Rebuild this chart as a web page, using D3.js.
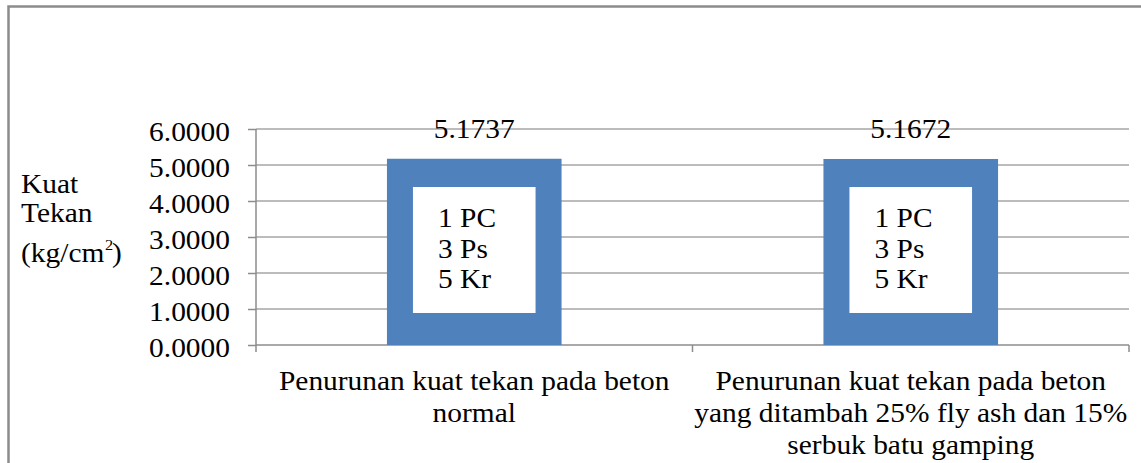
<!DOCTYPE html>
<html>
<head>
<meta charset="utf-8">
<script src="https://cdn.jsdelivr.net/npm/d3@7"></script>
<style>
  body { margin: 0; background: #fff; }
  text { font-family: "Liberation Serif", "Times New Roman", serif; fill: #000; }
</style>
</head>
<body>
<div id="container"></div>
<script>
(function () {
  var categories = ["normal", "flyash"];
  var categoryLines = [
    ["Penurunan kuat tekan pada beton", "normal"],
    ["Penurunan kuat tekan pada beton", "yang ditambah 25% fly ash dan 15%", "serbuk batu gamping"]
  ];
  var values = [5.1737, 5.1672];
  var mixLines = ["1 PC", "3 Ps", "5 Kr"];
  var yTicks = [0, 1, 2, 3, 4, 5, 6];

  var width = 1141,
      height = 463;
  var left = 256, right = 1129, top = 129, bottom = 345;
  var fs = 27, sx = 1.09; // text looks horizontally stretched in the source

  var svg = d3.select("#container").append("svg")
    .attr("width", width).attr("height", height);

  // outer frame (only the top and left edges are visible)
  svg.append("rect")
    .attr("x", 8.5).attr("y", 6.5)
    .attr("width", 1200).attr("height", 600)
    .attr("fill", "none").attr("stroke", "#8c8c8c").attr("stroke-width", 2.5);

  var y = d3.scaleLinear().domain([0, 6]).range([bottom, top]);
  var x = d3.scaleBand().domain(categories).range([left, right])
    .paddingInner(0.6).paddingOuter(0.3);

  function label(g, tx, ty, str, anchor, size) {
    return g.append("text")
      .attr("transform", "translate(" + tx + "," + ty + ") scale(" + sx + ",1)")
      .attr("text-anchor", anchor || "start")
      .style("font-size", (size || fs) + "px")
      .text(str);
  }

  // gridlines
  svg.selectAll(".grid").data(yTicks.slice(1)).enter().append("line")
    .attr("class", "grid")
    .attr("x1", left).attr("x2", right)
    .attr("y1", function (d) { return y(d); })
    .attr("y2", function (d) { return y(d); })
    .attr("stroke", "#a6a6a6").attr("stroke-width", 1.5);

  // y axis
  var yAxis = svg.append("g").attr("transform", "translate(" + left + ",0)")
    .call(d3.axisLeft(y).tickValues(yTicks).tickSize(8).tickFormat(d3.format(".4f")));
  yAxis.selectAll("path, line").attr("stroke", "#8c8c8c").attr("stroke-width", 1.5);
  yAxis.select(".domain").attr("d", "M0," + y(6) + "V" + y(0));
  yAxis.selectAll("text")
    .attr("x", null).attr("dy", null)
    .attr("transform", "translate(-26,11) scale(" + sx + ",1)")
    .attr("font-family", null).attr("font-size", null)
    .style("font-size", fs + "px");

  // x axis
  var xg = svg.append("g");
  xg.append("line")
    .attr("x1", left).attr("x2", right).attr("y1", bottom).attr("y2", bottom)
    .attr("stroke", "#8c8c8c").attr("stroke-width", 1.5);
  var bounds = d3.range(categories.length + 1).map(function (i) { return left + i * x.step(); });
  xg.selectAll(".xtick").data(bounds).enter().append("line")
    .attr("x1", function (d) { return d; }).attr("x2", function (d) { return d; })
    .attr("y1", bottom).attr("y2", bottom + 7)
    .attr("stroke", "#8c8c8c").attr("stroke-width", 1.5);

  categories.forEach(function (c, i) {
    var cx = x(c) + x.bandwidth() / 2;
    categoryLines[i].forEach(function (s, j) {
      label(svg, cx, 390 + j * 32, s, "middle");
    });
  });

  // bars
  svg.selectAll(".bar").data(values).enter().append("rect")
    .attr("class", "bar")
    .attr("x", function (d, i) { return x(categories[i]); })
    .attr("width", x.bandwidth())
    .attr("y", function (d) { return y(d); })
    .attr("height", function (d) { return y(0) - y(d); })
    .attr("fill", "#4f81bd");

  // value labels
  values.forEach(function (v, i) {
    label(svg, x(categories[i]) + x.bandwidth() / 2, y(v) - 21, v.toFixed(4), "middle");
  });

  // text boxes on bars
  categories.forEach(function (c, i) {
    var bx = x(c) + 26;
    svg.append("rect")
      .attr("x", bx).attr("y", 187)
      .attr("width", x.bandwidth() - 52).attr("height", 126)
      .attr("fill", "#fff");
    mixLines.forEach(function (s, j) {
      label(svg, bx + 25, 227 + j * 30.5, s, "start");
    });
  });

  // y axis title
  label(svg, 21, 193, "Kuat");
  label(svg, 21, 222, "Tekan");
  label(svg, 21, 262, "(kg/cm");
  label(svg, 105, 250, "2", "start", 15);
  label(svg, 112, 262, ")");
})();
</script>
</body>
</html>
